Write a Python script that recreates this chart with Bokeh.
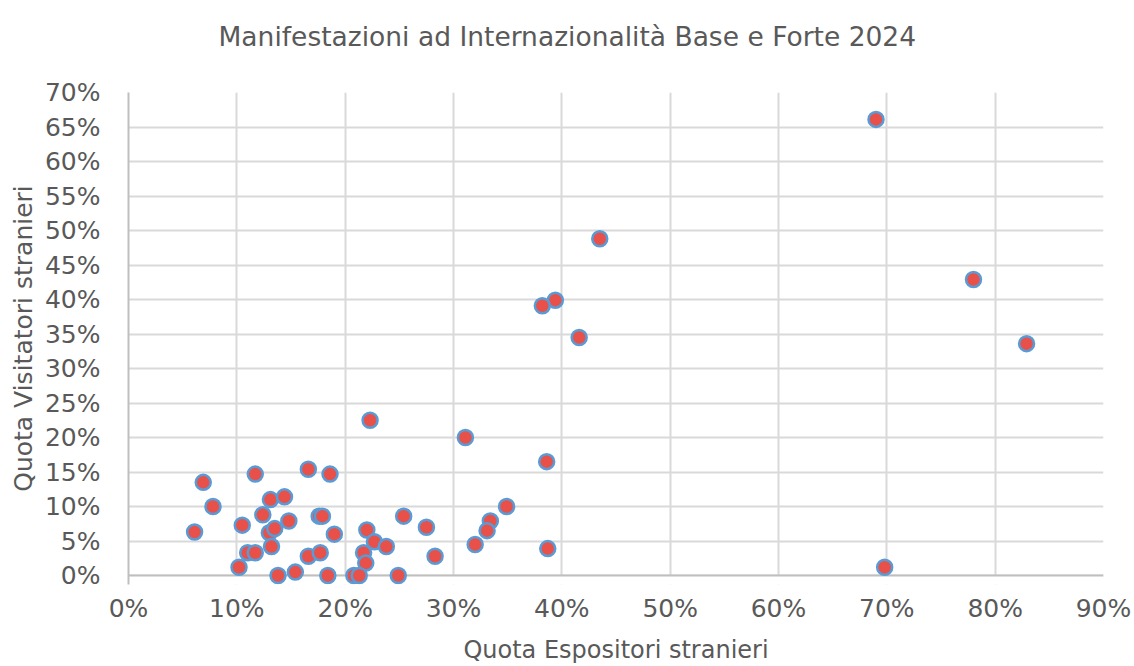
from bokeh.plotting import figure
from bokeh.models import NumeralTickFormatter, FixedTicker, Range1d, Title
from bokeh.embed import file_html
from bokeh.resources import INLINE

# Quota Espositori stranieri (fraction)
espositori = [0.690, 0.435, 0.780, 0.394, 0.382, 0.416, 0.829, 0.223, 0.311, 0.386,
              0.069, 0.117, 0.166, 0.186, 0.078, 0.131, 0.144, 0.349, 0.105, 0.124,
              0.148, 0.176, 0.179, 0.061, 0.130, 0.135, 0.190, 0.220, 0.254, 0.275,
              0.334, 0.331, 0.110, 0.117, 0.132, 0.166, 0.177, 0.217, 0.227, 0.238,
              0.219, 0.283, 0.320, 0.387, 0.102, 0.138, 0.154, 0.184, 0.208, 0.213,
              0.249, 0.698]
# Quota Visitatori stranieri (fraction)
visitatori = [0.661, 0.488, 0.429, 0.399, 0.391, 0.345, 0.336, 0.225, 0.200, 0.165,
              0.135, 0.147, 0.154, 0.147, 0.100, 0.110, 0.114, 0.100, 0.073, 0.088,
              0.079, 0.086, 0.086, 0.063, 0.062, 0.068, 0.060, 0.066, 0.086, 0.070,
              0.079, 0.065, 0.033, 0.033, 0.042, 0.028, 0.033, 0.033, 0.049, 0.042,
              0.018, 0.028, 0.045, 0.039, 0.012, 0.000, 0.005, 0.000, 0.000, 0.000,
              0.000, 0.012]

x_ticks = [0.0, 0.1, 0.2, 0.3, 0.4, 0.5, 0.6, 0.7, 0.8, 0.9]
y_ticks = [0.0, 0.05, 0.10, 0.15, 0.20, 0.25, 0.30, 0.35, 0.40, 0.45, 0.50, 0.55, 0.60, 0.65, 0.70]
x_min, x_max = 0.0, 0.9
y_min, y_max = 0.0, 0.7
y_pad = 0.013  # room below the 0% line so markers on it are not clipped

FONT = "DejaVu Sans"
TXT = "#595959"
GRID = "#D9D9D9"
AXIS = "#BFBFBF"

p = figure(width=1134, height=666, output_backend="svg", toolbar_location=None,
           x_range=Range1d(x_min, x_max), y_range=Range1d(y_min - y_pad, y_max),
           min_border_left=128, min_border_right=31, min_border_top=91, min_border_bottom=81,
           title="Manifestazioni ad Internazionalità Base e Forte 2024")

p.title.align = "left"
p.title.offset = 90
p.title.standoff = 36
p.title.text_font = FONT
p.title.text_font_size = "26.5px"
p.title.text_font_style = "normal"
p.title.text_color = TXT

# small empty spacer between the title and the plot area
p.add_layout(Title(text=" ", text_font_size="1px", standoff=20), "above")

p.outline_line_color = None
p.background_fill_color = "white"
p.border_fill_color = "white"

for ax in (p.xaxis, p.yaxis):
    ax.major_tick_line_color = None
    ax.minor_tick_line_color = None
    ax.major_label_text_font = FONT
    ax.major_label_text_font_size = "25px"
    ax.major_label_text_color = TXT
    ax.axis_label_text_font = FONT
    ax.axis_label_text_font_style = "normal"
    ax.axis_label_text_color = TXT
    ax.formatter = NumeralTickFormatter(format="0%")

p.xaxis.axis_line_color = None
p.yaxis.axis_line_color = AXIS
p.yaxis.axis_line_width = 2
p.xaxis.axis_label_text_font_size = "24px"
p.yaxis.axis_label_text_font_size = "25px"

p.xaxis.ticker = FixedTicker(ticks=x_ticks)
p.yaxis.ticker = FixedTicker(ticks=y_ticks)
p.xaxis.axis_label = "Quota Espositori stranieri"
p.yaxis.axis_label = "Quota Visitatori stranieri"
p.xaxis.major_label_standoff = 3
p.yaxis.major_label_standoff = 22
p.xaxis.axis_label_standoff = 10
p.yaxis.axis_label_standoff = 4

p.xgrid.grid_line_color = GRID
p.xgrid.grid_line_width = 2
p.ygrid.grid_line_color = GRID
p.ygrid.grid_line_width = 2

# hide the grid below the 0% line, then draw the horizontal axis line at 0
p.quad(left=[x_min], right=[x_max], bottom=[y_min - y_pad], top=[y_min],
       fill_color="white", line_color=None)
p.segment(x0=[x_min], y0=[y_min], x1=[x_max], y1=[y_min], line_color=AXIS, line_width=2)

p.scatter(espositori, visitatori, size=15, fill_color="#E8504A",
          line_color="#5B9BD5", line_width=2.5, marker="circle")

open("out.html", "w").write(file_html(p, INLINE))
